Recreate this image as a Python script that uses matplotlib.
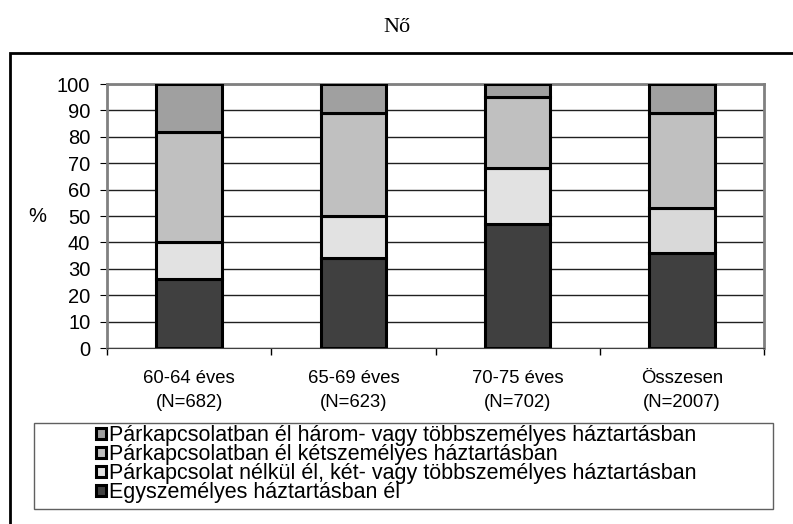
import numpy as np
import matplotlib.pyplot as plt
from matplotlib.patches import Rectangle

plt.rcParams['font.family'] = ['Liberation Sans', 'DejaVu Sans']

categories = ['60-64 éves\n(N=682)', '65-69 éves\n(N=623)',
              '70-75 éves\n(N=702)', 'Összesen\n(N=2007)']
egy = [26, 34, 47, 36]           # Egyszemélyes háztartásban él
nelkul = [14, 16, 21, 17]        # Párkapcsolat nélkül él, két- vagy többszemélyes
ket = [42, 39, 27, 36]           # Párkapcsolatban él kétszemélyes
harom = [18, 11, 5, 11]          # Párkapcsolatban él három- vagy többszemélyes
labels = ['Egyszemélyes háztartásban él',
          'Párkapcsolat nélkül él, két- vagy többszemélyes háztartásban',
          'Párkapcsolatban él kétszemélyes háztartásban',
          'Párkapcsolatban él három- vagy többszemélyes háztartásban']
colors = ['#404040', '#e2e2e2', '#c0c0c0', '#a0a0a0']

W, H = 793, 524
fig = plt.figure(figsize=(W / 100, H / 100), dpi=100)
ax = fig.add_axes([107 / W, 1 - 348 / H, (764 - 107) / W, (348 - 84) / H])

x = np.arange(len(categories))
bottom = np.zeros(len(categories))
handles = []
for vals, lab, col in zip([egy, nelkul, ket, harom], labels, colors):
    b = ax.bar(x, vals, width=0.4, bottom=bottom, color=col,
               edgecolor='black', linewidth=2.2, label=lab, zorder=3)
    handles.append(b)
    bottom += np.array(vals)
# the total bar's middle segment is a plain lighter gray
handles[1].patches[3].set_facecolor('#d9d9d9')

ax.set_xlim(-0.5, len(categories) - 0.5)
ax.set_ylim(0, 100)
ax.set_yticks(np.arange(0, 101, 10))
ax.yaxis.grid(True, color='#202020', linewidth=1.0, zorder=0)
ax.set_xticks(np.arange(len(categories) + 1) - 0.5)
ax.set_xticklabels([])
ax.set_xticks(x, minor=True)
ax.set_xticklabels(categories, minor=True, fontsize=13.3, linespacing=1.55)
ax.tick_params(axis='x', which='minor', length=0, pad=16)
ax.tick_params(axis='x', which='major', length=5, direction='out', width=1)
ax.tick_params(axis='y', length=5, direction='out', labelsize=14.5, pad=7)
for s in ['top', 'right', 'left']:
    ax.spines[s].set_color('#808080')
    ax.spines[s].set_linewidth(2)
ax.spines['bottom'].set_color('#404040')
ax.set_ylabel('%', rotation=0, fontsize=14.5, labelpad=14, va='center')

fig.text(0.5, 1 - 27 / H, 'Nő', ha='center', va='center',
         fontsize=16, family='Liberation Serif')

# outer frame and legend box
fig.add_artist(Rectangle((10 / W, -0.1), 1.2, 1.1 - 53 / H,
                         transform=fig.transFigure, fill=False,
                         edgecolor='black', linewidth=2))
fig.add_artist(Rectangle((34 / W, 1 - 509 / H), (773 - 34) / W, (509 - 423) / H,
                         transform=fig.transFigure, fill=False,
                         edgecolor='#606060', linewidth=1))
fig.legend(handles[::-1], labels[::-1], loc='upper left',
           bbox_to_anchor=(96 / W, 1 - 425 / H), frameon=False,
           fontsize=15.5, handlelength=0.45, handleheight=0.45,
           handletextpad=0.15, labelspacing=-0.09, borderpad=0,
           borderaxespad=0)

fig.savefig('out.png', dpi=100)
